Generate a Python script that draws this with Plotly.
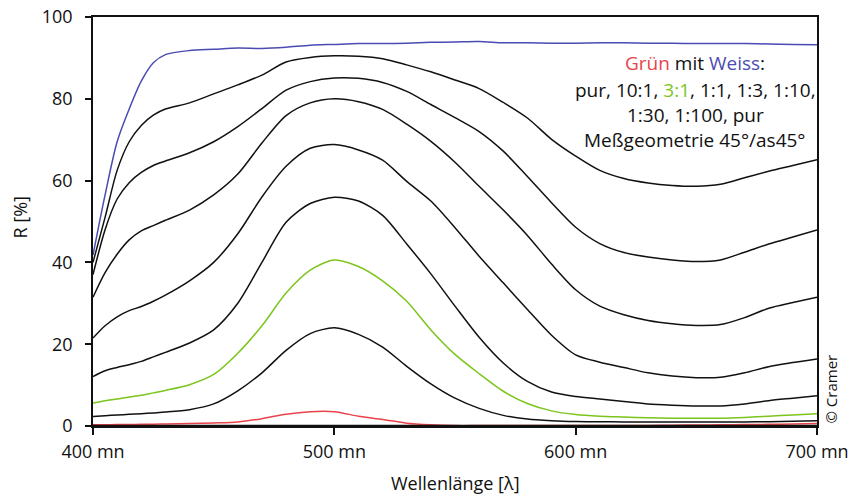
import plotly.graph_objects as go

wavelength = [400, 405, 410, 415, 420, 425, 430, 440, 450, 460, 470, 480, 490, 500,
              510, 520, 530, 540, 550, 560, 570, 580, 590, 600, 610, 620, 630, 640,
              650, 660, 670, 680, 690, 700]

weiss_pur = [41.8, 56.5, 69.5, 77.5, 84.3, 88.8, 90.8, 91.8, 92.1, 92.4, 92.3, 92.6, 93.1, 93.3,
             93.5, 93.5, 93.6, 93.8, 93.9, 94.0, 93.7, 93.7, 93.6, 93.6, 93.7, 93.7, 93.6, 93.6,
             93.5, 93.5, 93.5, 93.4, 93.3, 93.2]
mix_1_100 = [40.0, 51.0, 62.5, 69.5, 73.5, 76.0, 77.5, 79.0, 81.2, 83.4, 85.8, 89.0, 90.1, 90.5,
             90.4, 89.8, 88.3, 86.6, 84.6, 82.5, 79.1, 75.3, 70.1, 66.0, 62.5, 60.5, 59.4, 58.8,
             58.6, 59.1, 60.7, 62.3, 63.7, 65.1]
mix_1_30 = [37.0, 48.0, 55.5, 59.5, 62.0, 63.7, 64.8, 66.8, 69.5, 73.2, 77.6, 82.1, 84.2, 85.1,
            85.0, 84.0, 81.8, 78.6, 75.4, 72.0, 67.2, 61.0, 54.6, 48.6, 44.6, 42.4, 41.3, 40.6,
            40.2, 40.6, 42.5, 44.5, 46.2, 47.9]
mix_1_10 = [31.5, 37.5, 42.0, 45.5, 47.7, 49.0, 50.3, 52.8, 56.5, 61.6, 69.2, 75.9, 79.0, 80.0,
            79.3, 77.4, 73.8, 69.6, 64.5, 58.6, 52.8, 46.6, 39.6, 33.3, 29.3, 27.2, 25.8, 25.0,
            24.6, 24.8, 26.5, 28.8, 30.2, 31.5]
mix_1_3 = [21.5, 24.5, 26.7, 28.2, 29.2, 30.5, 32.0, 35.5, 40.0, 47.0, 56.0, 63.5, 67.9, 68.8,
           67.5, 65.0, 59.8, 55.0, 48.5, 41.5, 35.0, 28.5, 22.2, 17.4, 15.6, 14.3, 13.0, 12.2,
           11.8, 11.9, 13.0, 14.5, 15.5, 16.4]
mix_1_1 = [12.1, 13.5, 14.3, 15.0, 15.8, 16.9, 18.0, 20.3, 23.5, 30.0, 40.0, 49.8, 54.4, 55.9,
           55.0, 51.5, 44.5, 37.2, 29.3, 21.7, 15.4, 10.9, 8.3, 7.2, 6.6, 6.0, 5.4, 5.1,
           4.9, 4.9, 5.4, 6.2, 6.8, 7.4]
mix_3_1 = [5.6, 6.2, 6.6, 7.1, 7.5, 8.1, 8.7, 10.1, 12.6, 17.8, 24.5, 32.5, 38.1, 40.6,
           39.0, 35.5, 30.5, 23.5, 17.5, 12.8, 8.5, 5.5, 3.7, 2.8, 2.4, 2.2, 2.0, 1.9,
           1.9, 1.9, 2.1, 2.4, 2.7, 3.0]
mix_10_1 = [2.3, 2.5, 2.7, 2.85, 3.0, 3.2, 3.4, 4.0, 5.4, 8.6, 13.0, 18.5, 22.6, 24.0,
            22.4, 19.3, 14.6, 10.3, 6.8, 4.3, 2.6, 1.7, 1.3, 1.1, 1.05, 1.0, 1.0, 1.0,
            1.0, 1.0, 1.0, 1.05, 1.15, 1.3]
gruen_pur = [0.3, 0.3, 0.35, 0.35, 0.4, 0.45, 0.5, 0.6, 0.75, 1.0, 1.8, 2.9, 3.5, 3.5,
             2.4, 1.6, 0.7, 0.3, 0.1, 0.1, 0.1, 0.1, 0.1, 0.1, 0.1, 0.1, 0.15, 0.2,
             0.25, 0.3, 0.35, 0.4, 0.5, 0.6]

x_ticks = [400, 500, 600, 700]
x_tick_labels = ["400 mn", "500 mn", "600 mn", "700 mn"]
y_ticks = [0, 20, 40, 60, 80, 100]

BLUE = "#4b4bb4"
GREEN = "#7cc51c"
RED = "#e8434b"
BLACK = "#111111"
FONT = "Open Sans"

series = [
    (weiss_pur, BLUE),
    (mix_1_100, BLACK),
    (mix_1_30, BLACK),
    (mix_1_10, BLACK),
    (mix_1_3, BLACK),
    (mix_1_1, BLACK),
    (mix_3_1, GREEN),
    (mix_10_1, BLACK),
    (gruen_pur, RED),
]

fig = go.Figure()
for vals, col in series:
    fig.add_trace(go.Scatter(x=wavelength, y=vals, mode="lines",
                             line=dict(color=col, width=1.5, shape="spline", smoothing=0.8),
                             showlegend=False, hoverinfo="skip", cliponaxis=False))

fig.update_layout(
    width=851, height=496,
    margin=dict(l=93, r=34, t=17, b=70, pad=0),
    paper_bgcolor="white", plot_bgcolor="white",
    font=dict(family=FONT, size=18, color="#111111"),
    xaxis=dict(range=[400, 700], tickvals=x_ticks, ticktext=x_tick_labels,
               showgrid=False, zeroline=False, showline=True, linecolor="#111111",
               linewidth=1.5, mirror=True, ticks="outside", ticklen=7, tickwidth=1.5,
               tickcolor="#111111", tickfont=dict(size=18, family=FONT),
               automargin=False, ticklabelstandoff=2),
    yaxis=dict(range=[0, 100], tickvals=y_ticks, showgrid=False, zeroline=False,
               showline=True, linecolor="#111111", linewidth=1.5, mirror=True,
               ticks="outside", ticklen=6, tickwidth=1.5, tickcolor="#111111",
               tickfont=dict(size=18, family=FONT), ticklabelstandoff=9,
               automargin=False),
)

# thicker bottom axis line
fig.add_shape(type="line", xref="paper", yref="y", x0=0, x1=1, y0=0, y1=0,
              line=dict(color="#111111", width=2.5), layer="above")

ann_font = dict(family=FONT, size=19, color="#111111")
cx = 0.8315
fig.add_annotation(x=cx, y=0.8868, xref="paper", yref="paper", showarrow=False,
                   text=f"<span style='color:{RED}'>Grün</span> mit <span style='color:{BLUE}'>Weiss</span>:",
                   font=ann_font, xanchor="center", yanchor="middle")
fig.add_annotation(x=cx, y=0.8215, xref="paper", yref="paper", showarrow=False,
                   text=f"pur, 10:1, <span style='color:{GREEN}'>3:1</span>, 1:1, 1:3, 1:10,",
                   font=ann_font, xanchor="center", yanchor="middle")
fig.add_annotation(x=cx, y=0.7604, xref="paper", yref="paper", showarrow=False,
                   text="1:30, 1:100, pur", font=ann_font, xanchor="center", yanchor="middle")
fig.add_annotation(x=cx, y=0.6993, xref="paper", yref="paper", showarrow=False,
                   text="Meßgeometrie 45°/as45°", font=ann_font, xanchor="center", yanchor="middle")

fig.add_annotation(x=0.5, y=-0.1394, xref="paper", yref="paper", showarrow=False,
                   text="Wellenlänge [λ]", font=dict(family=FONT, size=18, color="#111111"),
                   xanchor="center", yanchor="middle")
fig.add_annotation(x=-0.1008, y=0.51, xref="paper", yref="paper", showarrow=False,
                   text="R [%]", textangle=-90, font=dict(family=FONT, size=18, color="#111111"),
                   xanchor="center", yanchor="middle")
fig.add_annotation(x=1.018, y=0.0, xref="paper", yref="paper", showarrow=False,
                   text="© Cramer", textangle=-90, font=dict(family=FONT, size=15, color="#111111"),
                   xanchor="center", yanchor="bottom")

fig.write_html("out.html", config={"displayModeBar": False},
               post_script="document.body.style.margin='0';")
